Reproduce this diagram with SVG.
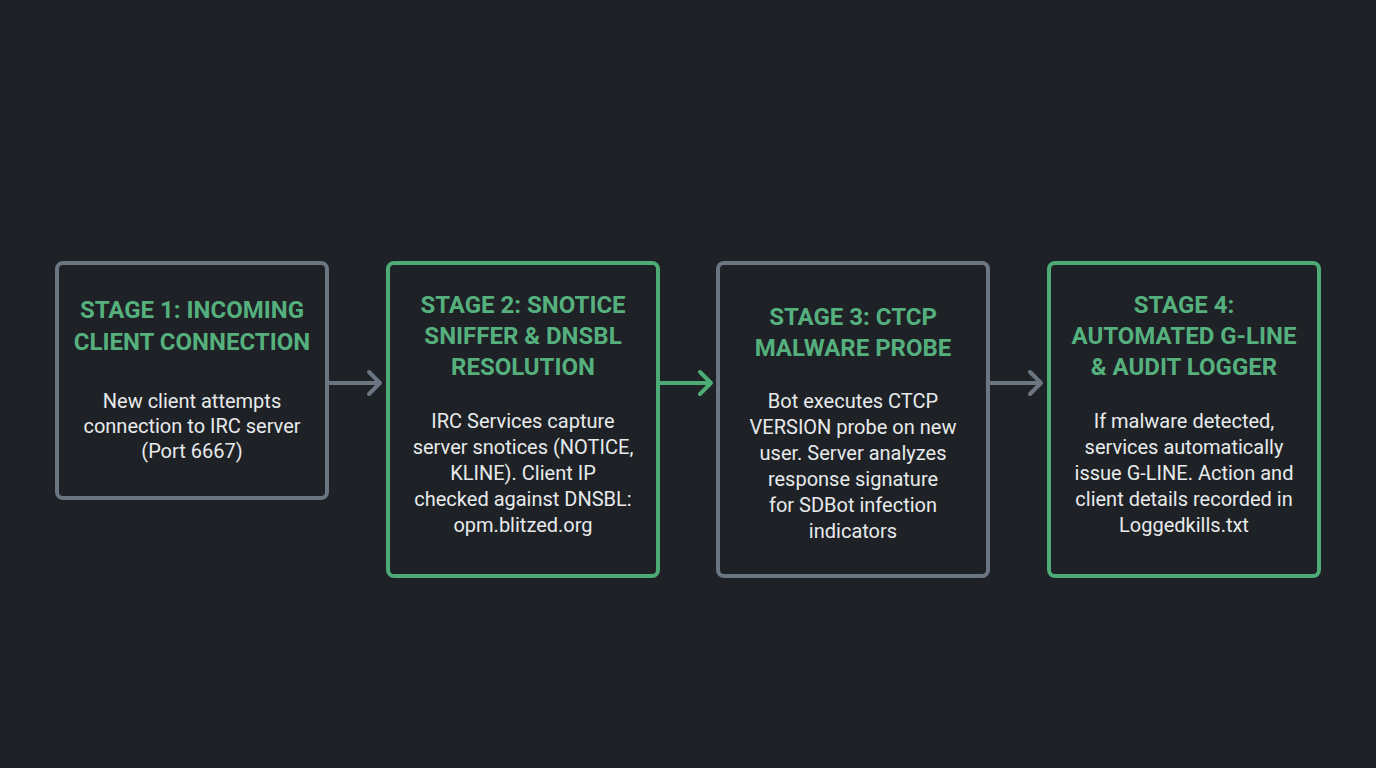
<svg xmlns="http://www.w3.org/2000/svg" width="1376" height="768" viewBox="0 0 1376 768">
<style>
.box{fill:#1e2226;stroke-width:4}
.g{stroke:#6c7682}.gr{stroke:#4dab76}
.t{font-family:Roboto,"Liberation Sans",sans-serif;font-weight:bold;font-size:24px;fill:#55b07e;text-anchor:middle}
.b{font-family:Roboto,"Liberation Sans",sans-serif;font-size:20px;fill:#e8eaec;text-anchor:middle}
.c{stroke-width:4;fill:none;stroke-linecap:round;stroke-linejoin:round}
</style>
<rect width="1376" height="768" fill="#1e2226"/>
<g id="connectors">
<path class="c g" d="M329 383H380M369 372L380 383L369 394"/>
<path class="c gr" d="M660 383H711M700 372L711 383L700 394"/>
<path class="c g" d="M990 383H1041M1030 372L1041 383L1030 394"/>
</g>
<g id="stage1">
<rect class="box g" x="57" y="263" width="270" height="235" rx="6"/>
<text class="t" x="192" y="318">STAGE 1: INCOMING</text>
<text class="t" x="192" y="350">CLIENT CONNECTION</text>
<text class="b" x="192" y="408">New client attempts</text>
<text class="b" x="192" y="433">connection to IRC server</text>
<text class="b" x="192" y="458">(Port 6667)</text>
</g>
<g id="stage2">
<rect class="box gr" x="388" y="263" width="270" height="313" rx="6"/>
<text class="t" x="523" y="313">STAGE 2: SNOTICE</text>
<text class="t" x="523" y="344">SNIFFER &amp; DNSBL</text>
<text class="t" x="523" y="375">RESOLUTION</text>
<text class="b" x="523" y="428">IRC Services capture</text>
<text class="b" x="523" y="454">server snotices (NOTICE,</text>
<text class="b" x="523" y="480">KLINE). Client IP</text>
<text class="b" x="523" y="506">checked against DNSBL:</text>
<text class="b" x="523" y="532">opm.blitzed.org</text>
</g>
<g id="stage3">
<rect class="box g" x="718" y="263" width="270" height="313" rx="6"/>
<text class="t" x="853" y="325">STAGE 3: CTCP</text>
<text class="t" x="853" y="356">MALWARE PROBE</text>
<text class="b" x="853" y="408">Bot executes CTCP</text>
<text class="b" x="853" y="434">VERSION probe on new</text>
<text class="b" x="853" y="460">user. Server analyzes</text>
<text class="b" x="853" y="486">response signature</text>
<text class="b" x="853" y="512">for SDBot infection</text>
<text class="b" x="853" y="538">indicators</text>
</g>
<g id="stage4">
<rect class="box gr" x="1049" y="263" width="270" height="313" rx="6"/>
<text class="t" x="1184" y="313">STAGE 4:</text>
<text class="t" x="1184" y="344">AUTOMATED G-LINE</text>
<text class="t" x="1184" y="375">&amp; AUDIT LOGGER</text>
<text class="b" x="1184" y="428">If malware detected,</text>
<text class="b" x="1184" y="454">services automatically</text>
<text class="b" x="1184" y="480">issue G-LINE. Action and</text>
<text class="b" x="1184" y="506">client details recorded in</text>
<text class="b" x="1184" y="532">Loggedkills.txt</text>
</g>
</svg>
